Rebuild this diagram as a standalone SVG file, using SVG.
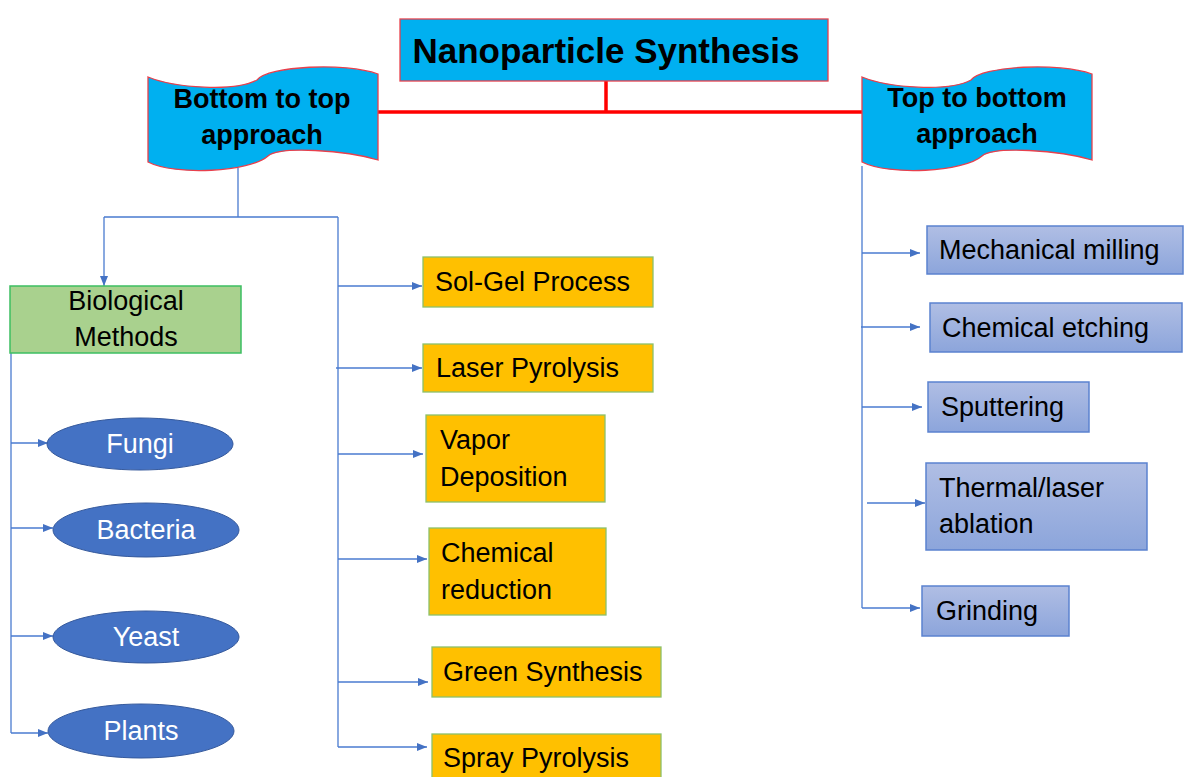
<svg xmlns="http://www.w3.org/2000/svg" width="1184" height="777" viewBox="0 0 1184 777">
<style>
text{font-family:"Liberation Sans",Arial,sans-serif;fill:#000}
.title{font-size:35px;font-weight:bold}
.bn{font-size:27px;font-weight:bold;text-anchor:middle}
.t{font-size:27px}
.c{text-anchor:middle}
.w{fill:#fff}
.banner,.tbox{fill:#00B0F0;stroke:#E8404C;stroke-width:1.3}
.ybox{fill:#FFC000;stroke:#8CC06A;stroke-width:1.3}
.gbox{fill:#A9D18E;stroke:#3DBE62;stroke-width:1.5}
.bbox{fill:url(#bg);stroke:#5B82CF;stroke-width:1.5}
.ell{fill:#4472C4;stroke:#35599C;stroke-width:1}
.red{stroke:#FF0000;stroke-width:3.5;fill:none}
.ln{stroke:#4A7BD0;stroke-width:1.3;fill:none}
.ar{stroke:#4A7BD0;stroke-width:1.3;fill:none;marker-end:url(#ah)}
</style>
<defs>
<linearGradient id="bg" x1="0" y1="0" x2="0" y2="1">
<stop offset="0" stop-color="#B0BEE4"/>
<stop offset="1" stop-color="#8CA5DB"/>
</linearGradient>
<marker id="ah" markerWidth="10" markerHeight="8" refX="10" refY="4" orient="auto" markerUnits="userSpaceOnUse">
<path d="M0,0 L10,4 L0,8 z" fill="#4472C4"/>
</marker>
</defs>
<rect width="1184" height="777" fill="#fff"/>
<g id="connectors">
<path class="red" d="M606,81 V112 M378,112 H862"/>
<path class="ln" d="M238,168 V217 M104,217 H338 M338,217 V747"/>
<path class="ar" d="M104,217 V286"/>
<path class="ar" d="M338,286 H422"/>
<path class="ar" d="M336,368 H422"/>
<path class="ar" d="M338,454 H423"/>
<path class="ar" d="M338,559 H427"/>
<path class="ar" d="M338,682 H428"/>
<path class="ar" d="M338,747 H427"/>
<path class="ln" d="M11,353 V733"/>
<path class="ar" d="M11,443 H48"/>
<path class="ar" d="M11,528 H53"/>
<path class="ar" d="M11,636 H53"/>
<path class="ar" d="M11,733 H48"/>
<path class="ln" d="M862,166 V608"/>
<path class="ar" d="M862,253 H920"/>
<path class="ar" d="M861,327 H920"/>
<path class="ar" d="M862,407 H922"/>
<path class="ar" d="M867,503 H925"/>
<path class="ar" d="M862,608 H920"/>
</g>
<g id="title">
<rect class="tbox" x="400" y="19" width="428" height="62"/>
<text class="title" x="606" y="63" text-anchor="middle">Nanoparticle Synthesis</text>
</g>
<g id="bottom-up">
<path class="banner" d="M148,77 C175,88 235,92 257,80 C268,66 345,62 378,74 V160 C345,150 280,146 268,156 C250,172 175,176 148,162 Z"/>
<text class="bn" x="262" y="108">Bottom to top</text>
<text class="bn" x="262" y="144">approach</text>
</g>
<g id="top-down">
<path class="banner" d="M862,77 C889,88 949,92 971,80 C982,66 1059,62 1092,74 V160 C1059,150 994,146 982,156 C964,172 889,176 862,162 Z"/>
<text class="bn" x="977" y="107">Top to bottom</text>
<text class="bn" x="977" y="143">approach</text>
</g>
<g id="biological">
<rect class="gbox" x="10" y="286" width="231" height="67"/>
<text class="t c" x="126" y="310">Biological</text>
<text class="t c" x="126" y="346">Methods</text>
</g>
<g id="fungi">
<ellipse class="ell" cx="140" cy="444" rx="93" ry="26"/>
<text class="t c w" x="140" y="453">Fungi</text>
</g>
<g id="bacteria">
<ellipse class="ell" cx="146" cy="530" rx="93" ry="27"/>
<text class="t c w" x="146" y="539">Bacteria</text>
</g>
<g id="yeast">
<ellipse class="ell" cx="146" cy="637" rx="93" ry="26"/>
<text class="t c w" x="146" y="646">Yeast</text>
</g>
<g id="plants">
<ellipse class="ell" cx="141" cy="731" rx="93" ry="27"/>
<text class="t c w" x="141" y="740">Plants</text>
</g>
<g id="solgel">
<rect class="ybox" x="423" y="257" width="230" height="50"/>
<text class="t" x="435" y="291">Sol-Gel Process</text>
</g>
<g id="laser">
<rect class="ybox" x="423" y="344" width="230" height="48"/>
<text class="t" x="436" y="377">Laser Pyrolysis</text>
</g>
<g id="vapor">
<rect class="ybox" x="426" y="415" width="179" height="87"/>
<text class="t" x="440" y="449">Vapor</text>
<text class="t" x="440" y="486">Deposition</text>
</g>
<g id="chemred">
<rect class="ybox" x="429" y="528" width="177" height="87"/>
<text class="t" x="441" y="562">Chemical</text>
<text class="t" x="441" y="599">reduction</text>
</g>
<g id="green">
<rect class="ybox" x="432" y="647" width="229" height="50"/>
<text class="t" x="443" y="681">Green Synthesis</text>
</g>
<g id="spray">
<rect class="ybox" x="432" y="734" width="229" height="50"/>
<text class="t" x="443" y="767">Spray Pyrolysis</text>
</g>
<g id="milling">
<rect class="bbox" x="927" y="226" width="256" height="48"/>
<text class="t" x="939" y="259">Mechanical milling</text>
</g>
<g id="etching">
<rect class="bbox" x="930" y="303" width="252" height="49"/>
<text class="t" x="942" y="337">Chemical etching</text>
</g>
<g id="sputtering">
<rect class="bbox" x="928" y="382" width="161" height="50"/>
<text class="t" x="941" y="416">Sputtering</text>
</g>
<g id="ablation">
<rect class="bbox" x="926" y="463" width="221" height="87"/>
<text class="t" x="939" y="497">Thermal/laser</text>
<text class="t" x="939" y="533">ablation</text>
</g>
<g id="grinding">
<rect class="bbox" x="922" y="586" width="147" height="50"/>
<text class="t" x="936" y="620">Grinding</text>
</g>
</svg>
